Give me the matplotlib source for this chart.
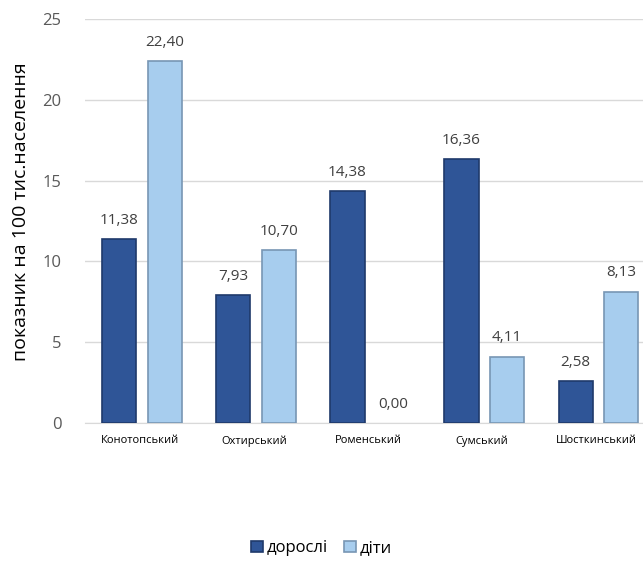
import matplotlib.pyplot as plt
import numpy as np

plt.rcParams['font.family'] = ['Open Sans', 'DejaVu Sans']

districts = ['Конотопський', 'Охтирський', 'Роменський', 'Сумський', 'Шосткинський']
adults = [11.38, 7.93, 14.38, 16.36, 2.58]
children = [22.40, 10.70, 0.00, 4.11, 8.13]
series_names = ['дорослі', 'діти']

fig = plt.figure(figsize=(6.43, 5.66), dpi=100)
ax = fig.add_axes([0.132, 0.2527, 0.868, 0.7137])

x = np.arange(len(districts))
w = 0.3
b1 = ax.bar(x - 0.18, adults, w, color='#2F5597', edgecolor='#1F3A6B', linewidth=1.2, label=series_names[0], zorder=3)
b2 = ax.bar(x + 0.22, children, w, color='#A7CDEE', edgecolor='#7896B4', linewidth=1.2, label=series_names[1], zorder=3)

for bars in (b1, b2):
    for r in bars:
        h = r.get_height()
        if h == 0:
            r.set_linewidth(0)
        ax.annotate(f'{h:.2f}'.replace('.', ','), (r.get_x() + r.get_width() / 2, h),
                    xytext=(0, 8), textcoords='offset points', ha='center', va='bottom',
                    fontsize=11, color='#404040')

ax.set_ylim(0, 25)
ax.set_xlim(-0.48, 4.41)
ax.set_yticks(range(0, 26, 5))
ax.set_xticks(x)
ax.set_xticklabels(districts, fontsize=8)
ax.tick_params(axis='y', length=0, labelsize=12, labelcolor='#595959', pad=17)
ax.tick_params(axis='x', length=0, labelcolor='#000000', pad=9)
ax.grid(axis='y', color='#D9D9D9', linewidth=1, zorder=0)
for s in ['top', 'right', 'left']:
    ax.spines[s].set_visible(False)
ax.spines['bottom'].set_color('#D9D9D9')
fig.text(21 / 643, 1 - 212 / 566, 'показник на 100 тис.населення', rotation=90,
         ha='center', va='center', fontsize=14, color='#000000')

fig.legend(handles=[b1, b2], loc='center', bbox_to_anchor=(0.5, 0.031), ncol=2, frameon=False,
           fontsize=12, handlelength=0.7, handleheight=0.7, handletextpad=0.2, columnspacing=1.0)

fig.savefig('out.png', dpi=100)
